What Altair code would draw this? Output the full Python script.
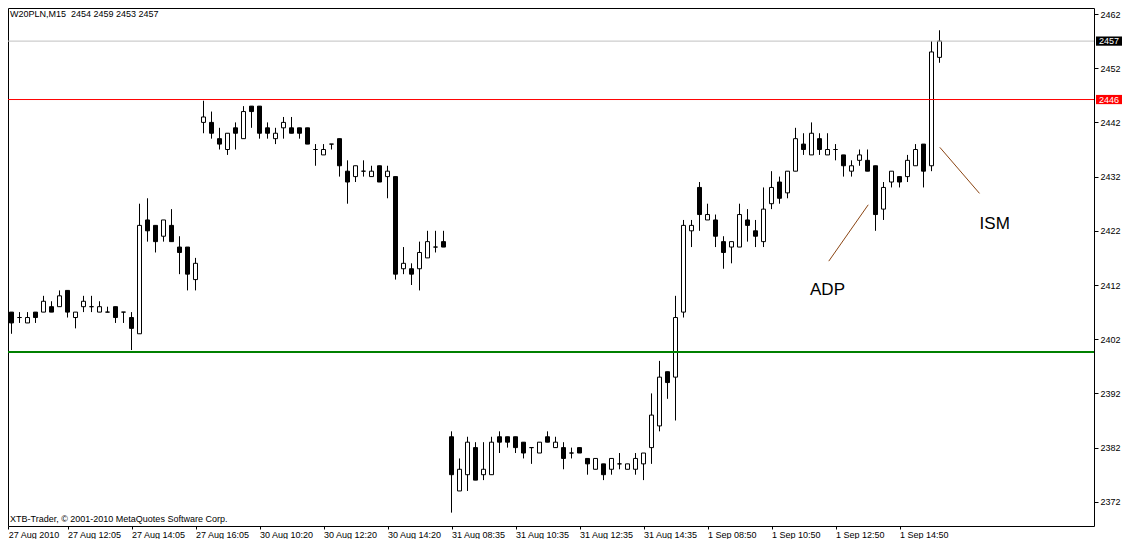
import altair as alt
import pandas as pd

# ---- data (M15 candles, W20PLN) ----
opens = [2404, 2407, 2406, 2405, 2407, 2407, 2408, 2408, 2411, 2406,
         2408, 2408, 2407, 2407, 2408, 2407, 2406, 2403, 2424, 2423,
         2421, 2423, 2419, 2419, 2413, 2442, 2442, 2439, 2437, 2441,
         2439, 2445, 2445, 2441, 2439, 2441, 2441, 2441, 2441, 2437,
         2436, 2438, 2439, 2433, 2432, 2433, 2432, 2434, 2432, 2432,
         2415, 2415, 2415, 2417, 2419, 2420, 2384, 2374, 2377, 2382,
         2377, 2377, 2384, 2384, 2384, 2383, 2382, 2381, 2384, 2382,
         2382, 2381, 2382, 2380, 2378, 2379, 2378, 2379, 2378, 2378,
         2379, 2382, 2386, 2396, 2395, 2407, 2422, 2430, 2424, 2424,
         2420, 2419, 2419, 2424, 2422, 2420, 2427, 2431, 2429, 2433,
         2438, 2436, 2439, 2436, 2437, 2436, 2433, 2435, 2435, 2434,
         2426, 2431, 2432, 2432, 2434, 2438, 2434, 2454]
highs = [2407, 2407, 2407, 2407, 2407, 2410, 2409, 2411, 2411, 2407,
         2410, 2410, 2409, 2408, 2408, 2407, 2407, 2427, 2428, 2423,
         2424, 2426, 2421, 2419, 2417, 2446, 2444, 2441, 2440, 2442,
         2445, 2445, 2445, 2442, 2441, 2443, 2443, 2441, 2441, 2438,
         2438, 2438, 2439, 2435, 2434, 2435, 2434, 2434, 2434, 2432,
         2419, 2416, 2420, 2422, 2422, 2422, 2385, 2380, 2384, 2383,
         2383, 2384, 2385, 2384, 2384, 2383, 2382, 2383, 2385, 2384,
         2383, 2382, 2382, 2380, 2380, 2379, 2380, 2381, 2379, 2381,
         2381, 2392, 2398, 2396, 2410, 2424, 2424, 2431, 2427, 2425,
         2421, 2420, 2427, 2426, 2424, 2430, 2433, 2432, 2433, 2441,
         2440, 2442, 2440, 2440, 2438, 2436, 2435, 2437, 2437, 2434,
         2431, 2433, 2432, 2436, 2438, 2438, 2457, 2459]
lows = [2403, 2403, 2405, 2405, 2405, 2407, 2407, 2408, 2406, 2404,
        2407, 2407, 2407, 2407, 2405, 2405, 2400, 2403, 2420, 2418,
        2420, 2420, 2414, 2411, 2411, 2440, 2439, 2437, 2436, 2437,
        2439, 2441, 2439, 2439, 2438, 2439, 2440, 2439, 2438, 2434,
        2436, 2437, 2432, 2427, 2431, 2432, 2432, 2431, 2428, 2413,
        2414, 2412, 2411, 2417, 2418, 2419, 2370, 2374, 2374, 2376,
        2376, 2377, 2381, 2382, 2381, 2380, 2379, 2381, 2383, 2382,
        2378, 2380, 2381, 2377, 2378, 2376, 2377, 2378, 2378, 2377,
        2376, 2379, 2385, 2391, 2387, 2406, 2419, 2422, 2424, 2419,
        2415, 2416, 2419, 2420, 2419, 2419, 2426, 2427, 2428, 2433,
        2436, 2436, 2436, 2436, 2435, 2432, 2432, 2434, 2433, 2422,
        2424, 2430, 2430, 2431, 2434, 2430, 2433, 2453]
closes = [2406, 2405, 2406, 2406, 2406, 2409, 2407, 2410, 2407, 2407,
          2409, 2408, 2408, 2407, 2406, 2407, 2404, 2423, 2422, 2420,
          2424, 2420, 2418, 2414, 2416, 2443, 2440, 2438, 2440, 2440,
          2444, 2444, 2440, 2440, 2440, 2442, 2440, 2440, 2438, 2437,
          2437, 2438, 2434, 2431, 2434, 2433, 2433, 2431, 2433, 2414,
          2416, 2414, 2418, 2420, 2419, 2419, 2377, 2378, 2383, 2376,
          2378, 2383, 2383, 2383, 2382, 2381, 2382, 2383, 2383, 2383,
          2380, 2381, 2381, 2379, 2380, 2377, 2380, 2379, 2379, 2380,
          2381, 2388, 2395, 2394, 2406, 2423, 2423, 2425, 2425, 2421,
          2418, 2420, 2425, 2423, 2421, 2426, 2430, 2428, 2433, 2439,
          2437, 2440, 2437, 2437, 2437, 2434, 2434, 2436, 2433, 2425,
          2430, 2433, 2431, 2435, 2437, 2433, 2455, 2457]

y_ticks = [2372, 2382, 2392, 2402, 2412, 2422, 2432, 2442, 2452, 2462]
x_tick_idx = [0.6, 8, 16, 24, 32, 40, 48, 56, 64, 72, 80, 88, 96, 104, 112]
x_tick_labels = ["27 Aug 2010", "27 Aug 12:05", "27 Aug 14:05", "27 Aug 16:05",
                 "30 Aug 10:20", "30 Aug 12:20", "30 Aug 14:20", "31 Aug 08:35",
                 "31 Aug 10:35", "31 Aug 12:35", "31 Aug 14:35", "1 Sep 08:50",
                 "1 Sep 10:50", "1 Sep 12:50", "1 Sep 14:50"]

last_price = 2457
red_level = 2446.22
green_level = 2399.64
last_label = "2457"
red_label = "2446"

note_texts = ["ADP", "ISM"]
note_x = [103, 123.9]
note_y = [2411, 2423.3]
arrow_x1 = [103.16, 117.04]
arrow_y1 = [2416.4, 2437.4]
arrow_x2 = [108.09, 122.0]
arrow_y2 = [2426.8, 2428.9]

title_text = "W20PLN,M15\u00a0 2454 2459 2453 2457"
footer_text = "XTB-Trader, \u00a9 2001-2010 MetaQuotes Software Corp."

# ---- tables ----
n = len(opens)
df = pd.DataFrame({"i": list(range(n)), "o": opens, "h": highs, "l": lows, "c": closes})
df["lo"] = df[["o", "c"]].min(axis=1)
df["hi"] = df[["o", "c"]].max(axis=1)
df["dir"] = ["up" if c >= o else "down" for o, c in zip(opens, closes)]
df["xa"] = df["i"] - 0.25
df["xb"] = df["i"] + 0.25

notes = pd.DataFrame({"t": note_texts, "x": note_x, "y": note_y})
arrows = pd.DataFrame({"x1": arrow_x1, "y1": arrow_y1, "x2": arrow_x2, "y2": arrow_y2})

W, H = 1086, 518
PX = 5.42  # pixels per point in the reference
top_p = 2462 + 6 / PX
bot_p = top_p - H / PX
x0 = 0.5625
xs = alt.Scale(domain=[x0, x0 + W / 8.0], nice=False, zero=False)
ys = alt.Scale(domain=[bot_p, top_p], nice=False, zero=False)
FONT = "Liberation Sans"

label_arr = "[" + ",".join("'" + s + "'" for s in x_tick_labels) + "]"

x_axis = alt.Axis(values=x_tick_idx, labelExpr=label_arr + "[floor(datum.value / 8)]",
                  orient="bottom", labelAlign="left", labelBaseline="top",
                  tickSize=3, tickColor="black", tickWidth=1, domain=False, grid=False,
                  labelFont=FONT, labelFontSize=9, labelColor="black", labelPadding=1,
                  labelFlush=False, labelOverlap=False, labelBound=False, title=None)
y_axis = alt.Axis(values=y_ticks, format="d", orient="right",
                  tickSize=4, tickColor="black", tickWidth=1, domain=False, grid=False,
                  labelFont=FONT, labelFontSize=9, labelColor="black", labelPadding=2,
                  labelBaseline="middle", labelOverlap=False, labelBound=False, title=None)


def X(field):
    return alt.X(field, scale=xs, axis=x_axis)


def Y(field):
    return alt.Y(field, scale=ys, axis=y_axis)


base = alt.Chart(df)

wicks = base.mark_rule(color="black", strokeWidth=1).encode(
    x=X("i:Q"), y=Y("l:Q"), y2="h:Q",
)

bodies = base.mark_rect(stroke="black", strokeWidth=1).encode(
    x=X("xa:Q"), x2="xb:Q", y=Y("lo:Q"), y2="hi:Q",
    fill=alt.Fill("dir:N", scale=alt.Scale(domain=["up", "down"], range=["white", "black"]), legend=None),
)


def level_line(price, colour, width):
    return alt.Chart(pd.DataFrame({"p": [price]})).mark_rule(
        color=colour, strokeWidth=width
    ).encode(y=Y("p:Q"))


line_last = level_line(last_price, "#c0c0c0", 1)
line_red = level_line(red_level, "#ff0000", 1)
line_green = level_line(green_level, "#008000", 2)

arrow_lines = alt.Chart(arrows).mark_rule(color="#8b4513", strokeWidth=1).encode(
    x=X("x1:Q"), x2="x2:Q", y=Y("y1:Q"), y2="y2:Q",
)

note_marks = alt.Chart(notes).mark_text(font=FONT, fontSize=17, color="black",
                                        align="center", baseline="middle").encode(
    x=X("x:Q"), y=Y("y:Q"), text="t:N",
)


def price_box(price, label, colour):
    d = pd.DataFrame({"p": [price], "pa": [price - 0.85], "pb": [price + 0.85], "t": [label]})
    rect = alt.Chart(d).mark_rect(color=colour).encode(
        x=alt.value(W + 2), x2=alt.value(W + 28), y=Y("pa:Q"), y2="pb:Q")
    txt = alt.Chart(d).mark_text(font=FONT, fontSize=9, color="white",
                                 align="left", baseline="middle").encode(
        x=alt.value(W + 5), y=Y("p:Q"), text="t:N")
    return rect + txt


box_last = price_box(last_price, last_label, "black")
box_red = price_box(red_level, red_label, "#ff0000")

title_mark = alt.Chart(pd.DataFrame({"t": [title_text]})).mark_text(
    font=FONT, fontSize=9, color="black", align="left", baseline="alphabetic"
).encode(x=alt.value(2), y=alt.value(9), text="t:N")

footer_mark = alt.Chart(pd.DataFrame({"t": [footer_text]})).mark_text(
    font=FONT, fontSize=9, color="black", align="left", baseline="alphabetic"
).encode(x=alt.value(2), y=alt.value(H - 4), text="t:N")

chart = alt.layer(
    wicks, bodies, line_last, line_red, line_green, arrow_lines, note_marks,
    box_last, box_red, title_mark, footer_mark
).properties(
    width=W, height=H,
    autosize=alt.AutoSizeParams(type="none"),
    padding={"left": 0, "top": 0, "right": 30, "bottom": 13},
    background="white",
).configure_view(stroke="black", strokeWidth=1)

chart.save("out.html", embed_options={"renderer": "svg", "actions": False})
